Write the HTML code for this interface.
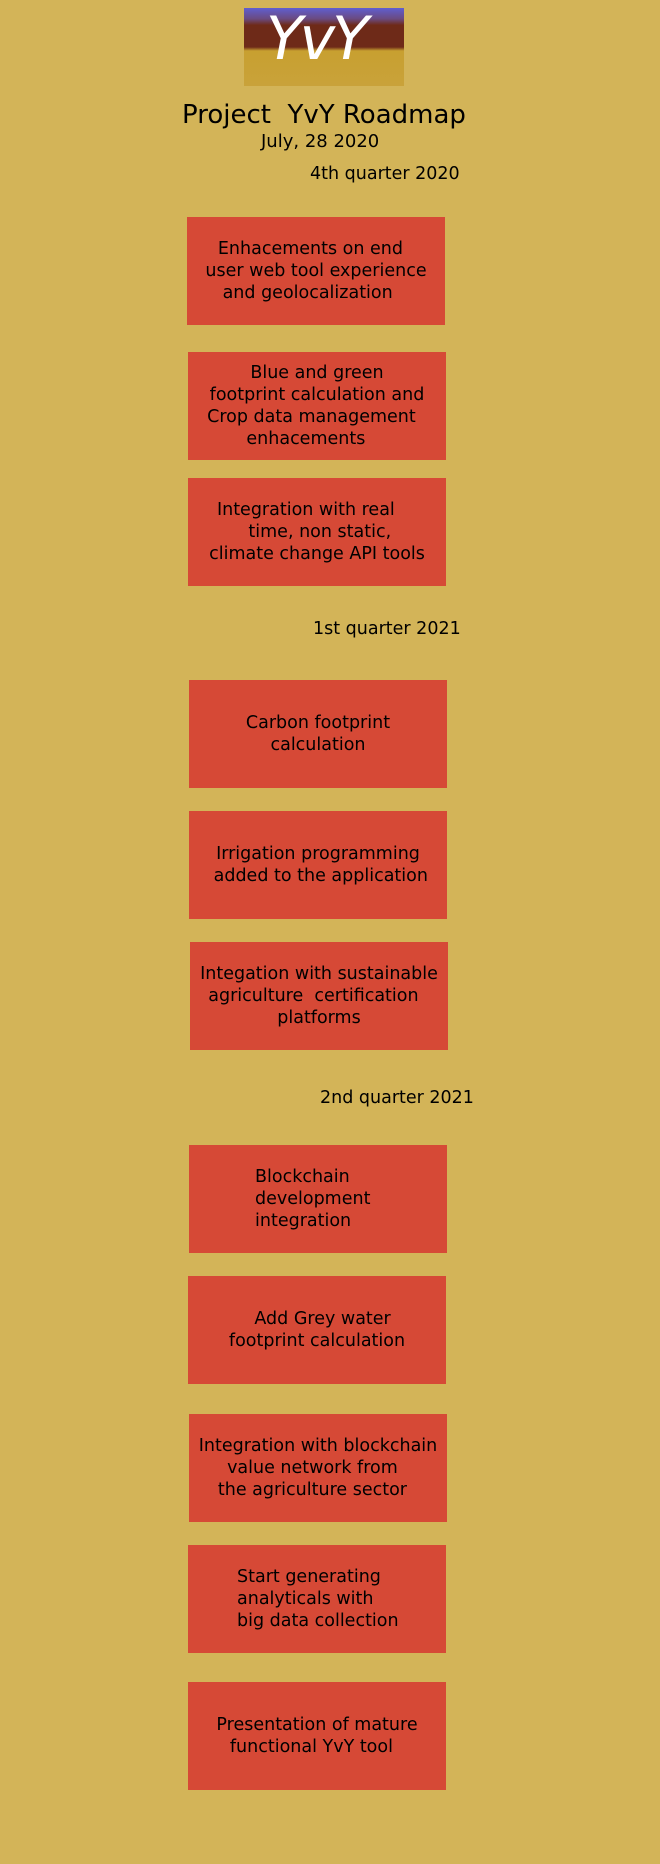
<!DOCTYPE html>
<html><head><meta charset="utf-8"><style>
body{margin:0;width:660px;height:1864px;background:#d3b458;position:relative;font-family:"DejaVu Sans","Liberation Sans",sans-serif;color:#000;overflow:hidden}
.t{position:absolute;white-space:pre;}
.box{position:absolute;width:258px;height:108px;background:#d64936;display:flex;align-items:center;justify-content:center;font-size:17.5px;line-height:22px;text-align:center;white-space:pre}
.left{justify-content:flex-start;text-align:left}
</style></head><body>
<div style="position:absolute;left:244px;top:8px;width:160px;height:78px;background:linear-gradient(#5f5fd0 0%,#6a4a80 14%,#6e2a18 22%,#6e2a18 50%,#c8a030 55%,#c9a23a 100%);overflow:hidden">
<div class="t" style="left:22px;top:-4px;font-family:'DejaVu Sans',sans-serif;font-style:italic;font-size:60px;color:#fff;letter-spacing:-3px">YvY</div></div>
<div class="t" style="left:182px;top:100px;font-size:26px">Project  YvY Roadmap</div>
<div class="t" style="left:261px;top:131px;font-size:18px">July, 28 2020</div>
<div class="t" style="left:310px;top:164px;font-size:17.5px">4th quarter 2020</div>
<div class="t" style="left:313px;top:619px;font-size:17.5px">1st quarter 2021</div>
<div class="t" style="left:320px;top:1088px;font-size:17.5px">2nd quarter 2021</div>

<div class="box" style="left:187px;top:217px">Enhacements on end  
user web tool experience
and geolocalization   </div>
<div class="box" style="left:188px;top:352px">Blue and green
footprint calculation and
Crop data management  
enhacements    </div>
<div class="box" style="left:188px;top:478px">Integration with real    
 time, non static,
climate change API tools</div>
<div class="box" style="left:189px;top:680px">Carbon footprint
calculation</div>
<div class="box" style="left:189px;top:811px">Irrigation programming
 added to the application</div>
<div class="box" style="left:190px;top:942px">Integation with sustainable
agriculture  certification  
platforms</div>
<div class="box left" style="left:189px;top:1145px;padding-left:66px;width:192px">Blockchain
development
integration</div>
<div class="box" style="left:188px;top:1276px">  Add Grey water
footprint calculation</div>
<div class="box" style="left:189px;top:1414px">Integration with blockchain
value network from  
the agriculture sector  </div>
<div class="box left" style="left:188px;top:1545px;padding-left:49px;width:209px">Start generating
analyticals with
big data collection</div>
<div class="box" style="left:188px;top:1682px">Presentation of mature
functional YvY tool  </div>
</body></html>
